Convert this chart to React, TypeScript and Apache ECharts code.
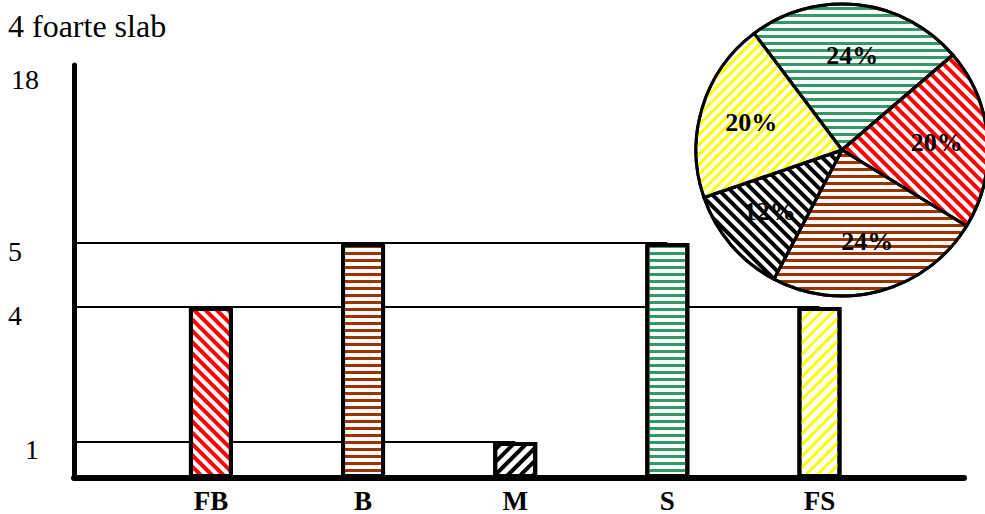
import React, { useEffect, useRef } from 'react';
import * as echarts from 'echarts';

// ---- data ----
const titleText = '4 foarte slab';
const categories = ['FB', 'B', 'M', 'S', 'FS'];
const barValues = [4, 5, 1, 5, 4];
const yTickValues = [1, 4, 5, 18];
const refLevels = [1, 4, 5];
const refLevelEnds = ['M', 'FS', 'S'];
const pieCategories = ['S', 'FB', 'B', 'M', 'FS'];
const piePercents = [24, 20, 24, 12, 20];

// ---- styles ----
const FONT = '"Liberation Serif", "Times New Roman", serif';
const hatchColor: Record<string, string> = {
  FB: '#FF0000',
  B: '#993300',
  M: '#000000',
  S: '#339966',
  FS: '#FFFF00',
};
const DIAG_UP = -Math.PI / 4; // '/'
const DIAG_DOWN = Math.PI / 4; // '\'
const barHatch: Record<string, { rot: number; dash: number[] }> = {
  FB: { rot: DIAG_DOWN, dash: [3.5, 3.5] },
  B: { rot: 0, dash: [3, 4] },
  M: { rot: DIAG_UP, dash: [4, 5] },
  S: { rot: 0, dash: [3, 4] },
  FS: { rot: DIAG_UP, dash: [3, 4.5] },
};
const pieHatch: Record<string, { rot: number; dash: number[] }> = {
  S: { rot: 0, dash: [3, 4] },
  FB: { rot: DIAG_DOWN, dash: [3.5, 3.5] },
  B: { rot: 0, dash: [3, 4] },
  M: { rot: DIAG_DOWN, dash: [4, 4] },
  FS: { rot: DIAG_UP, dash: [3, 3.5] },
};

function decalFor(cat: string, h: { rot: number; dash: number[] }) {
  return {
    symbol: 'rect',
    symbolSize: 1,
    dashArrayX: [1, 0],
    dashArrayY: h.dash,
    rotation: h.rot,
    color: hatchColor[cat],
    backgroundColor: '#ffffff',
  };
}

const X_MIN = 0.1;
const X_MAX = 5.95;

export default function App() {
  const ref = useRef<HTMLDivElement>(null);

  useEffect(() => {
    if (!ref.current) return;
    const chart = echarts.init(ref.current, undefined, { renderer: 'svg' });

    const richY: Record<string, any> = {
      v1: { padding: [0, 0, 0, 17], lineHeight: 16 },
      v4: { lineHeight: 16 },
      v5: { lineHeight: 16 },
      v18: { padding: [0, 0, 0, 3], lineHeight: 28 },
    };

    const option: any = {
      animation: false,
      backgroundColor: '#ffffff',
      grid: { left: 74, right: 21, top: 65, bottom: 36, containLabel: false },
      graphic: [
        {
          type: 'text',
          left: 8,
          top: 10,
          style: { text: titleText, font: `32px ${FONT}`, fill: '#000' },
        },
      ],
      xAxis: {
        type: 'value',
        min: X_MIN,
        max: X_MAX,
        axisLine: { show: true, onZero: false, lineStyle: { color: '#000', width: 6 } },
        axisTick: { show: false },
        splitLine: { show: false },
        axisLabel: {
          customValues: categories.map((_, i) => i + 1),
          formatter: (v: number) => categories[Math.round(v) - 1] ?? '',
          margin: 9,
          fontSize: 27,
          fontWeight: 'bold',
          fontFamily: FONT,
          color: '#000',
        },
      },
      yAxis: [
        {
          type: 'value',
          min: 0,
          max: 18,
          breaks: [
            { start: 0.2, end: 0.8, gap: 0.1625 },
            { start: 2, end: 3, gap: 0.109 },
            { start: 6, end: 17.5, gap: 1.281 },
          ],
          breakArea: {
            show: false,
            itemStyle: { opacity: 0, color: 'rgba(0,0,0,0)', borderColor: 'rgba(0,0,0,0)', borderWidth: 0 },
            zigzagAmplitude: 0,
          },
          axisLine: { show: false },
          axisTick: { show: false },
          splitLine: { show: false },
          axisLabel: {
            customValues: yTickValues,
            formatter: (v: number) => `{v${v}|${v}}`,
            rich: richY,
            align: 'left',
            verticalAlign: 'top',
            margin: 66,
            fontSize: 28,
            fontFamily: FONT,
            color: '#000',
          },
        },
        {
          type: 'value',
          position: 'left',
          offset: 0,
          min: 0,
          max: 18,
          axisLine: { show: true, onZero: false, lineStyle: { color: '#000', width: 5 } },
          axisTick: { show: false },
          axisLabel: { show: false },
          splitLine: { show: false },
        },
      ],
      series: [
        {
          type: 'line',
          data: [],
          z: 1,
          silent: true,
          markLine: {
            z: 1,
            silent: true,
            symbol: ['none', 'none'],
            label: { show: false },
            lineStyle: { color: '#000', width: 2, type: 'solid' },
            emphasis: { disabled: true },
            data: refLevels.map((lv, i) => [
              { coord: [X_MIN, lv] },
              { coord: [categories.indexOf(refLevelEnds[i]) + 1, lv] },
            ]),
          },
        },
        {
          type: 'bar',
          z: 3,
          barWidth: 44,
          silent: true,
          data: categories.map((c, i) => ({
            value: [i + 1, barValues[i]],
            itemStyle: {
              color: '#ffffff',
              borderColor: '#000',
              borderWidth: 4,
              decal: decalFor(c, barHatch[c]),
            },
          })),
        },
        {
          type: 'pie',
          center: [842, 150],
          radius: 146,
          startAngle: 127,
          clockwise: true,
          silent: true,
          label: { show: false },
          labelLine: { show: false },
          emphasis: { disabled: true },
          data: pieCategories.map((c, i) => ({
            name: c,
            value: piePercents[i],
            itemStyle: {
              color: '#ffffff',
              borderColor: '#000',
              borderWidth: 3,
              decal: decalFor(c, pieHatch[c]),
            },
          })),
        },
        {
          type: 'pie',
          center: [842, 150],
          radius: [38, 146],
          startAngle: 127,
          clockwise: true,
          silent: true,
          avoidLabelOverlap: false,
          itemStyle: { color: 'rgba(0,0,0,0)', borderWidth: 0 },
          emphasis: { disabled: true },
          labelLine: { show: false },
          label: {
            show: true,
            position: 'inside',
            formatter: '{c}%',
            fontSize: 26,
            fontWeight: 'bold',
            fontFamily: FONT,
            color: '#000',
          },
          data: pieCategories.map((c, i) => ({ name: c, value: piePercents[i] })),
        },
      ],
    };

    chart.setOption(option);
    return () => chart.dispose();
  }, []);

  return (
    <div
      ref={ref}
      style={{ position: 'fixed', left: 0, top: 0, width: 985, height: 514, background: '#fff' }}
    />
  );
}
